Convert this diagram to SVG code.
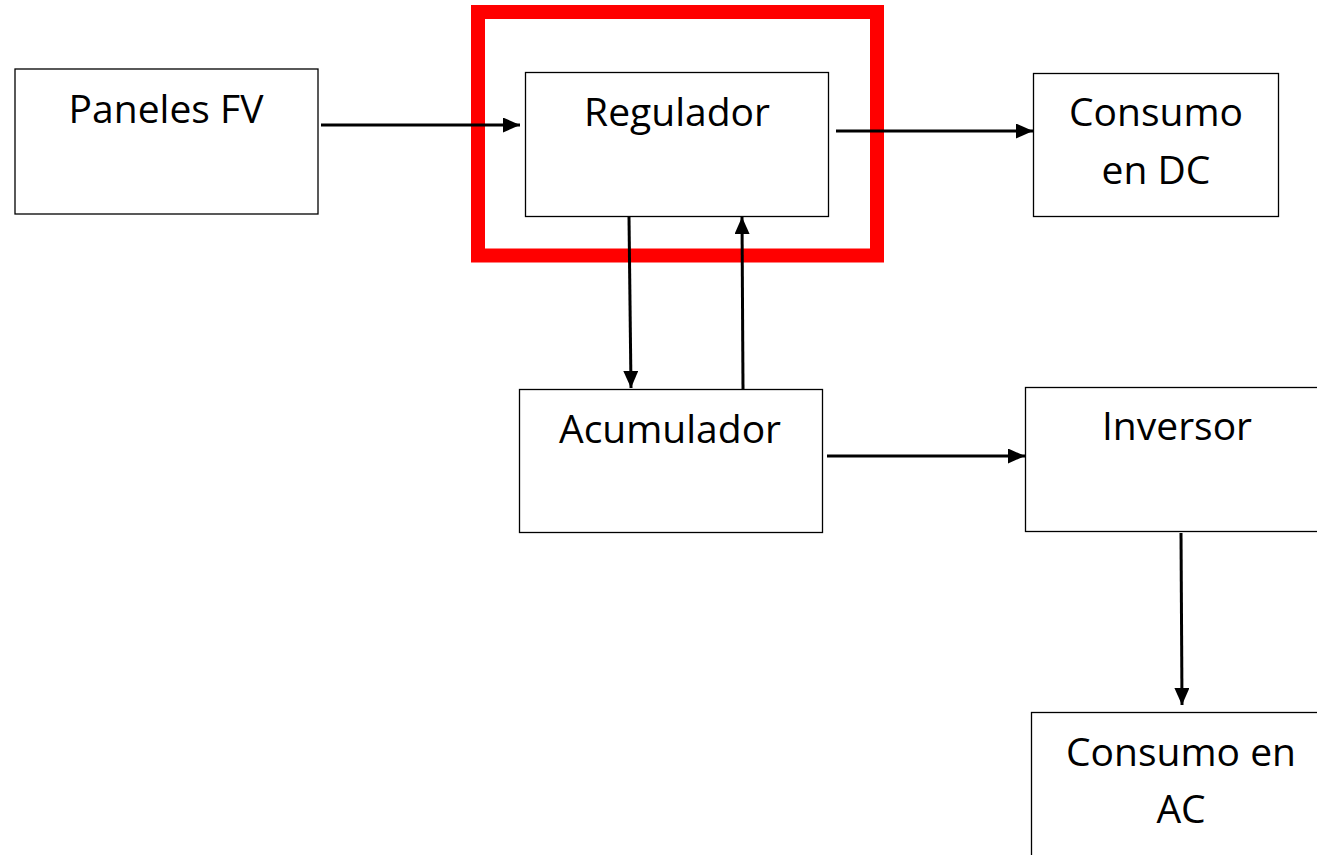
<svg xmlns="http://www.w3.org/2000/svg" width="1317" height="855" viewBox="0 0 1317 855">
<style>
.box{fill:#fff;stroke:#000;stroke-width:1.3}
.lbl{font-family:"Open Sans","Liberation Sans",sans-serif;font-size:39px;fill:#000;text-anchor:middle}
.conn{stroke:#000;stroke-width:3;fill:none;marker-end:url(#ah)}
</style>
<defs>
<marker id="ah" markerUnits="userSpaceOnUse" markerWidth="17" markerHeight="15" refX="17" refY="7.5" orient="auto">
<path d="M0,0 L17,7.5 L0,15 Z" fill="#000"/>
</marker>
</defs>
<rect width="1317" height="855" fill="#fff"/>
<g id="paneles">
<rect class="box" x="15" y="69" width="303" height="145"/>
<text class="lbl" x="166" y="123">Paneles FV</text>
</g>
<g id="regulador">
<rect class="box" x="525.5" y="72.5" width="303" height="144"/>
<text class="lbl" x="677" y="126">Regulador</text>
</g>
<g id="consumo-dc">
<rect class="box" x="1033.5" y="73.5" width="245" height="143"/>
<text class="lbl" x="1156" y="126">Consumo</text>
<text class="lbl" x="1156" y="184">en DC</text>
</g>
<g id="acumulador">
<rect class="box" x="519.5" y="389.5" width="303" height="143"/>
<text class="lbl" x="670" y="443">Acumulador</text>
</g>
<g id="inversor">
<rect class="box" x="1025.5" y="387.5" width="300" height="144"/>
<text class="lbl" x="1177" y="440">Inversor</text>
</g>
<g id="consumo-ac">
<rect class="box" x="1031.5" y="712.5" width="300" height="160"/>
<text class="lbl" x="1181" y="766">Consumo en</text>
<text class="lbl" x="1181" y="823">AC</text>
</g>
<g id="highlight">
<rect x="478" y="12" width="399" height="243.5" fill="none" stroke="#ff0000" stroke-width="14"/>
</g>
<g id="connectors">
<line class="conn" x1="321" y1="125" x2="520" y2="125"/>
<line class="conn" x1="836" y1="131" x2="1033" y2="131"/>
<line class="conn" x1="629" y1="217" x2="631" y2="388"/>
<line class="conn" x1="743" y1="389" x2="742" y2="217"/>
<line class="conn" x1="827" y1="456" x2="1025" y2="456"/>
<line class="conn" x1="1181" y1="533" x2="1182" y2="705"/>
</g>
</svg>
